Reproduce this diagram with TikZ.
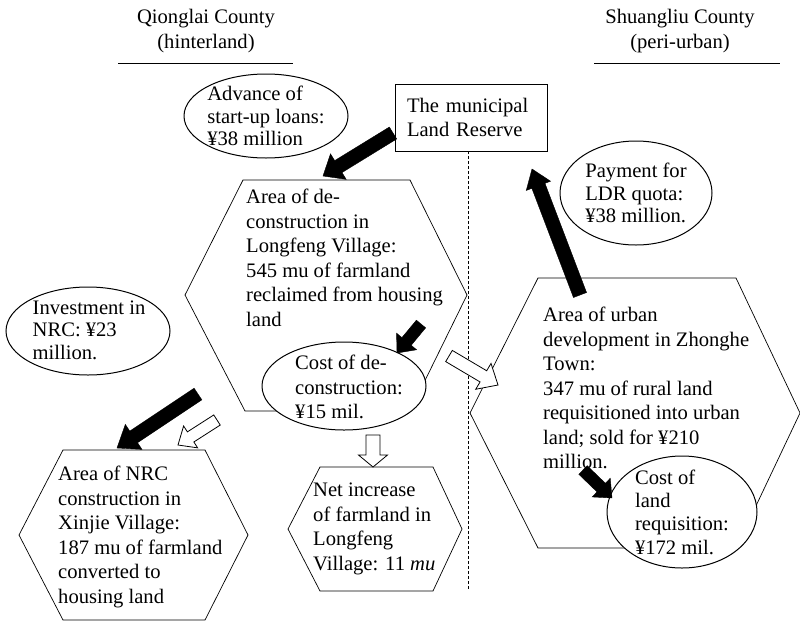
\documentclass[tikz,border=0pt]{standalone}
\usepackage{fontspec}
\setmainfont{Liberation Serif}
\usetikzlibrary{calc}
\newcommand\blockarrow[6]{%
  \coordinate (bacc) at ($(#3)!#6!(#2)$);
  \draw[#1] ($(#2)!#4!90:(#3)$) -- ($(bacc)!#4!90:(#3)$) -- ($(bacc)!#5!90:(#3)$) -- (#3)
    -- ($(bacc)!#5!-90:(#3)$) -- ($(bacc)!#4!-90:(#3)$) -- ($(#2)!#4!-90:(#3)$) -- cycle;}
\tikzset{
  txt/.style={font=\fontsize{20.6}{24.5}\selectfont, inner sep=0pt, align=left},
  txtb/.style={font=\fontsize{20.6}{22.5}\selectfont, inner sep=0pt, align=left},
  hexline/.style={draw, line width=0.7pt, fill=white},
  ell/.style={draw, line width=1pt, fill=white},
  blk/.style={fill=black, draw=black, line width=0.4pt},
  wht/.style={fill=white, draw=black, line width=0.8pt},
}
\begin{document}
\begin{tikzpicture}[x=1pt,y=-1pt]
\useasboundingbox (0,0) rectangle (800,622);
% headers
\node[txt, align=center] (hq) at (206,31) {Qionglai County\\(hinterland)};
\node[txt, align=center] (hs) at (680,31) {Shuangliu County\\(peri-urban)};
\draw[line width=0.8pt] (118,63) -- (293,63);
\draw[line width=0.8pt] (594,63) -- (780,63);
% land reserve box
\node[draw, line width=0.8pt, font=\fontsize{20.6}{24.5}\selectfont, inner xsep=12pt, inner ysep=0pt,
      text width=128pt, minimum height=67pt, align=left] (box) at (471,117.5) {The municipal\\Land Reserve};
% dashed divider
\coordinate (dbot) at (468,590);
\draw[dashed, dash pattern=on 3pt off 2pt, line width=0.6pt] (box.south -| dbot) -- (dbot);
% hexagons
\draw[hexline] (243,180) -- (410,180) -- (467,295) -- (410,411) -- (245,411) -- (185,295) -- cycle;
\node[txt, anchor=north west] (hexa) at (246,189) {Area of de-\\construction in\\Longfeng Village:\\545 mu of farmland\\reclaimed from housing\\land};
\draw[hexline] (538,278) -- (736,278) -- (800,413) -- (736,548) -- (538,548) -- (470,413) -- cycle;
\node[txt, anchor=north west] (hexb) at (543,307) {Area of urban\\development in Zhonghe\\Town:\\347 mu of rural land\\requisitioned into urban\\land; sold for ¥210\\million.};
\draw[hexline] (63,450) -- (205,450) -- (248,535) -- (205,620) -- (63,620) -- (19,535) -- cycle;
\node[txt, anchor=north west] (hexc) at (58,466) {Area of NRC\\construction in\\Xinjie Village:\\187 mu of farmland\\converted to\\housing land};
\draw[hexline] (320,467) -- (433,467) -- (462,529) -- (433,591) -- (320,591) -- (288,529) -- cycle;
\node[txt, anchor=north west] (hexd) at (313,483) {Net increase\\of farmland in\\Longfeng\\Village: 11 \textit{mu}};
% ellipses
\coordinate (advc) at (266,116);
\draw[ell] (advc) ellipse [x radius=82pt, y radius=42pt];
\node[txtb] (adv) at (advc) {Advance of\\start-up loans:\\¥38 million};
\coordinate (invc) at (88,331);
\draw[ell] (invc) ellipse [x radius=82pt, y radius=44pt];
\node[txtb] (inv) at (89,330) {Investment in\\NRC: ¥23\\million.};
\coordinate (payc) at (636,193);
\draw[ell] (payc) ellipse [x radius=76pt, y radius=52pt];
\node[txtb] (pay) at (636,193) {Payment for\\LDR quota:\\¥38 million.};
\coordinate (cdc) at (344,386);
\draw[ell] (cdc) ellipse [x radius=82pt, y radius=44pt];
\node[txt] (cd) at (349,387) {Cost of de-\\construction:\\¥15 mil.};
\coordinate (clc) at (682,512);
\draw[ell] (clc) ellipse [x radius=75pt, y radius=56pt];
\node[font=\fontsize{20.6}{23.3}\selectfont, inner sep=0pt, align=left] (cl) at (682,512) {Cost of\\land\\requisition:\\¥172 mil.};
% arrow end points
\coordinate (a1s) at (393,133); \coordinate (a1e) at (323,176);
\coordinate (a2s) at (580,295); \coordinate (a2e) at (532,169);
\coordinate (a3s) at (421,324); \coordinate (a3e) at (397,353);
\coordinate (a4s) at (449,356); \coordinate (a4e) at (498,385);
\coordinate (a5s) at (373,435); \coordinate (a5e) at (373,467);
\coordinate (a6s) at (198,394); \coordinate (a6e) at (117,448);
\coordinate (a7s) at (217,420); \coordinate (a7e) at (178,445);
\coordinate (a8s) at (583,470); \coordinate (a8e) at (612,498);
\blockarrow{blk}{a1s}{a1e}{7pt}{15pt}{18pt}
\blockarrow{blk}{a2s}{a2e}{7pt}{13pt}{18pt}
\blockarrow{blk}{a3s}{a3e}{6pt}{13pt}{15pt}
\blockarrow{wht}{a4s}{a4e}{6.5pt}{15pt}{17pt}
\blockarrow{wht}{a5s}{a5e}{7pt}{14.5pt}{12pt}
\blockarrow{blk}{a6s}{a6e}{7pt}{15pt}{20pt}
\blockarrow{wht}{a7s}{a7e}{6pt}{13pt}{15pt}
\blockarrow{blk}{a8s}{a8e}{6pt}{13pt}{15pt}
\end{tikzpicture}
\end{document}
